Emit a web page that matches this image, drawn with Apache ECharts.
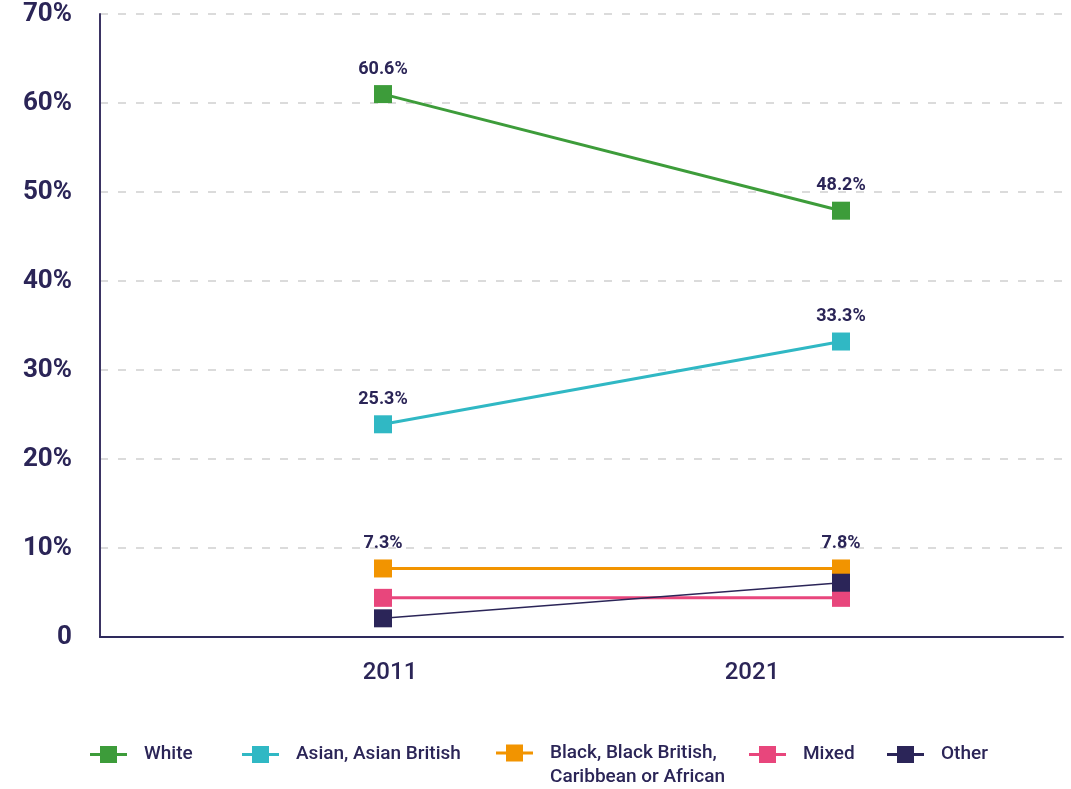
<!DOCTYPE html>
<html>
<head>
<meta charset="utf-8">
<script src="https://cdn.jsdelivr.net/npm/echarts@6/dist/echarts.min.js"></script>
<style>html,body{margin:0;padding:0;background:#fff}#c{width:1071px;height:789px}</style>
</head>
<body>
<div id="c"></div>
<script>
const categories = ['2011', '2021'];
const seriesNames = ['White', 'Asian, Asian British', 'Black, Black British, Caribbean or African', 'Mixed', 'Other'];
const white = [61.0, 47.9];
const asian = [23.9, 33.2];
const black = [7.7, 7.7];
const mixed = [4.4, 4.4];
const other = [2.1, 6.1];
const whiteLabels = ['60.6%', '48.2%'];
const asianLabels = ['25.3%', '33.3%'];
const blackLabels = ['7.3%', '7.8%'];
const yTicks = [0, 10, 20, 30, 40, 50, 60, 70];

const colors = ['#3d9c3a', '#30b8c4', '#f29400', '#e8467c', '#2b2558'];
const textColor = '#2b2557';
const font = 'Roboto, "DejaVu Sans", sans-serif';

const chart = echarts.init(document.getElementById('c'), null, {renderer: 'canvas'});

function mkSeries(i, data, labels, width) {
  return {
    name: seriesNames[i],
    type: 'line',
    xAxisIndex: 1, yAxisIndex: 1,
    data: data,
    symbol: 'rect',
    symbolSize: 18,
    z: 2 + i,
    lineStyle: {color: colors[i], width: width},
    itemStyle: {color: colors[i]},
    label: labels ? {
      show: true, position: 'top', distance: 7,
      formatter: p => labels[p.dataIndex],
      color: textColor, fontFamily: font, fontSize: 18, fontWeight: 'bold'
    } : {show: false},
    emphasis: {disabled: true}
  };
}

const iconPath = 'path://M0,7L10,7L10,0L27,0L27,7L37,7L37,10L27,10L27,17L10,17L10,10L0,10Z';
const legendLefts = [90, 242, 496, 749, 887];
const legends = seriesNames.map((n, i) => ({
  data: [n],
  left: legendLefts[i],
  top: i === 2 ? 717 : 745,
  padding: 0,
  icon: iconPath,
  itemWidth: 37,
  itemHeight: 17,
  selectedMode: false,
  formatter: name => i === 2 ? '\n' + name.replace(', Caribbean', ',\nCaribbean') : name,
  textStyle: {
    color: textColor, fontFamily: font, fontSize: 19, fontWeight: 500,
    lineHeight: i === 2 ? 24 : 17,
    padding: [0, 0, 0, 12]
  }
}));

const yBase = {type: 'value', min: 0, max: 70, interval: 10};

chart.setOption({
  animation: false,
  color: colors,
  grid: [
    {left: 100, right: 8, top: 14, bottom: 152},
    {left: 154, right: 1, top: 14, bottom: 152},
    {left: 209, right: 138, top: 14, bottom: 152}
  ],
  legend: legends,
  xAxis: [
    {gridIndex: 0, type: 'category', data: categories,
     axisLine: {show: true, lineStyle: {color: '#2e2a5c', width: 2}},
     axisTick: {show: false}, axisLabel: {show: false}, splitLine: {show: false}},
    {gridIndex: 1, type: 'category', data: categories, boundaryGap: true, show: false},
    {gridIndex: 2, type: 'category', data: categories, boundaryGap: true,
     axisLine: {show: false}, axisTick: {show: false}, splitLine: {show: false},
     axisLabel: {show: true, margin: 24, color: textColor, fontFamily: font, fontSize: 24, fontWeight: 500}}
  ],
  yAxis: [
    Object.assign({gridIndex: 0}, yBase, {
      axisLine: {show: true, lineStyle: {color: '#3b3463', width: 2}},
      axisTick: {show: false},
      axisLabel: {
        margin: 28, color: textColor, fontFamily: font, fontSize: 26, fontWeight: 'bold',
        formatter: v => v === 0 ? '0' : v + '%'
      },
      splitLine: {show: true, lineStyle: {color: '#cfcfcf', width: 1.5, type: [8, 10]}}
    }),
    Object.assign({gridIndex: 1}, yBase, {show: false, splitLine: {show: false}}),
    Object.assign({gridIndex: 2}, yBase, {show: false, splitLine: {show: false}})
  ],
  series: [
    mkSeries(0, white, whiteLabels, 3),
    mkSeries(1, asian, asianLabels, 3),
    mkSeries(2, black, blackLabels, 3),
    mkSeries(3, mixed, null, 3),
    mkSeries(4, other, null, 1.5)
  ]
});
</script>
</body>
</html>
